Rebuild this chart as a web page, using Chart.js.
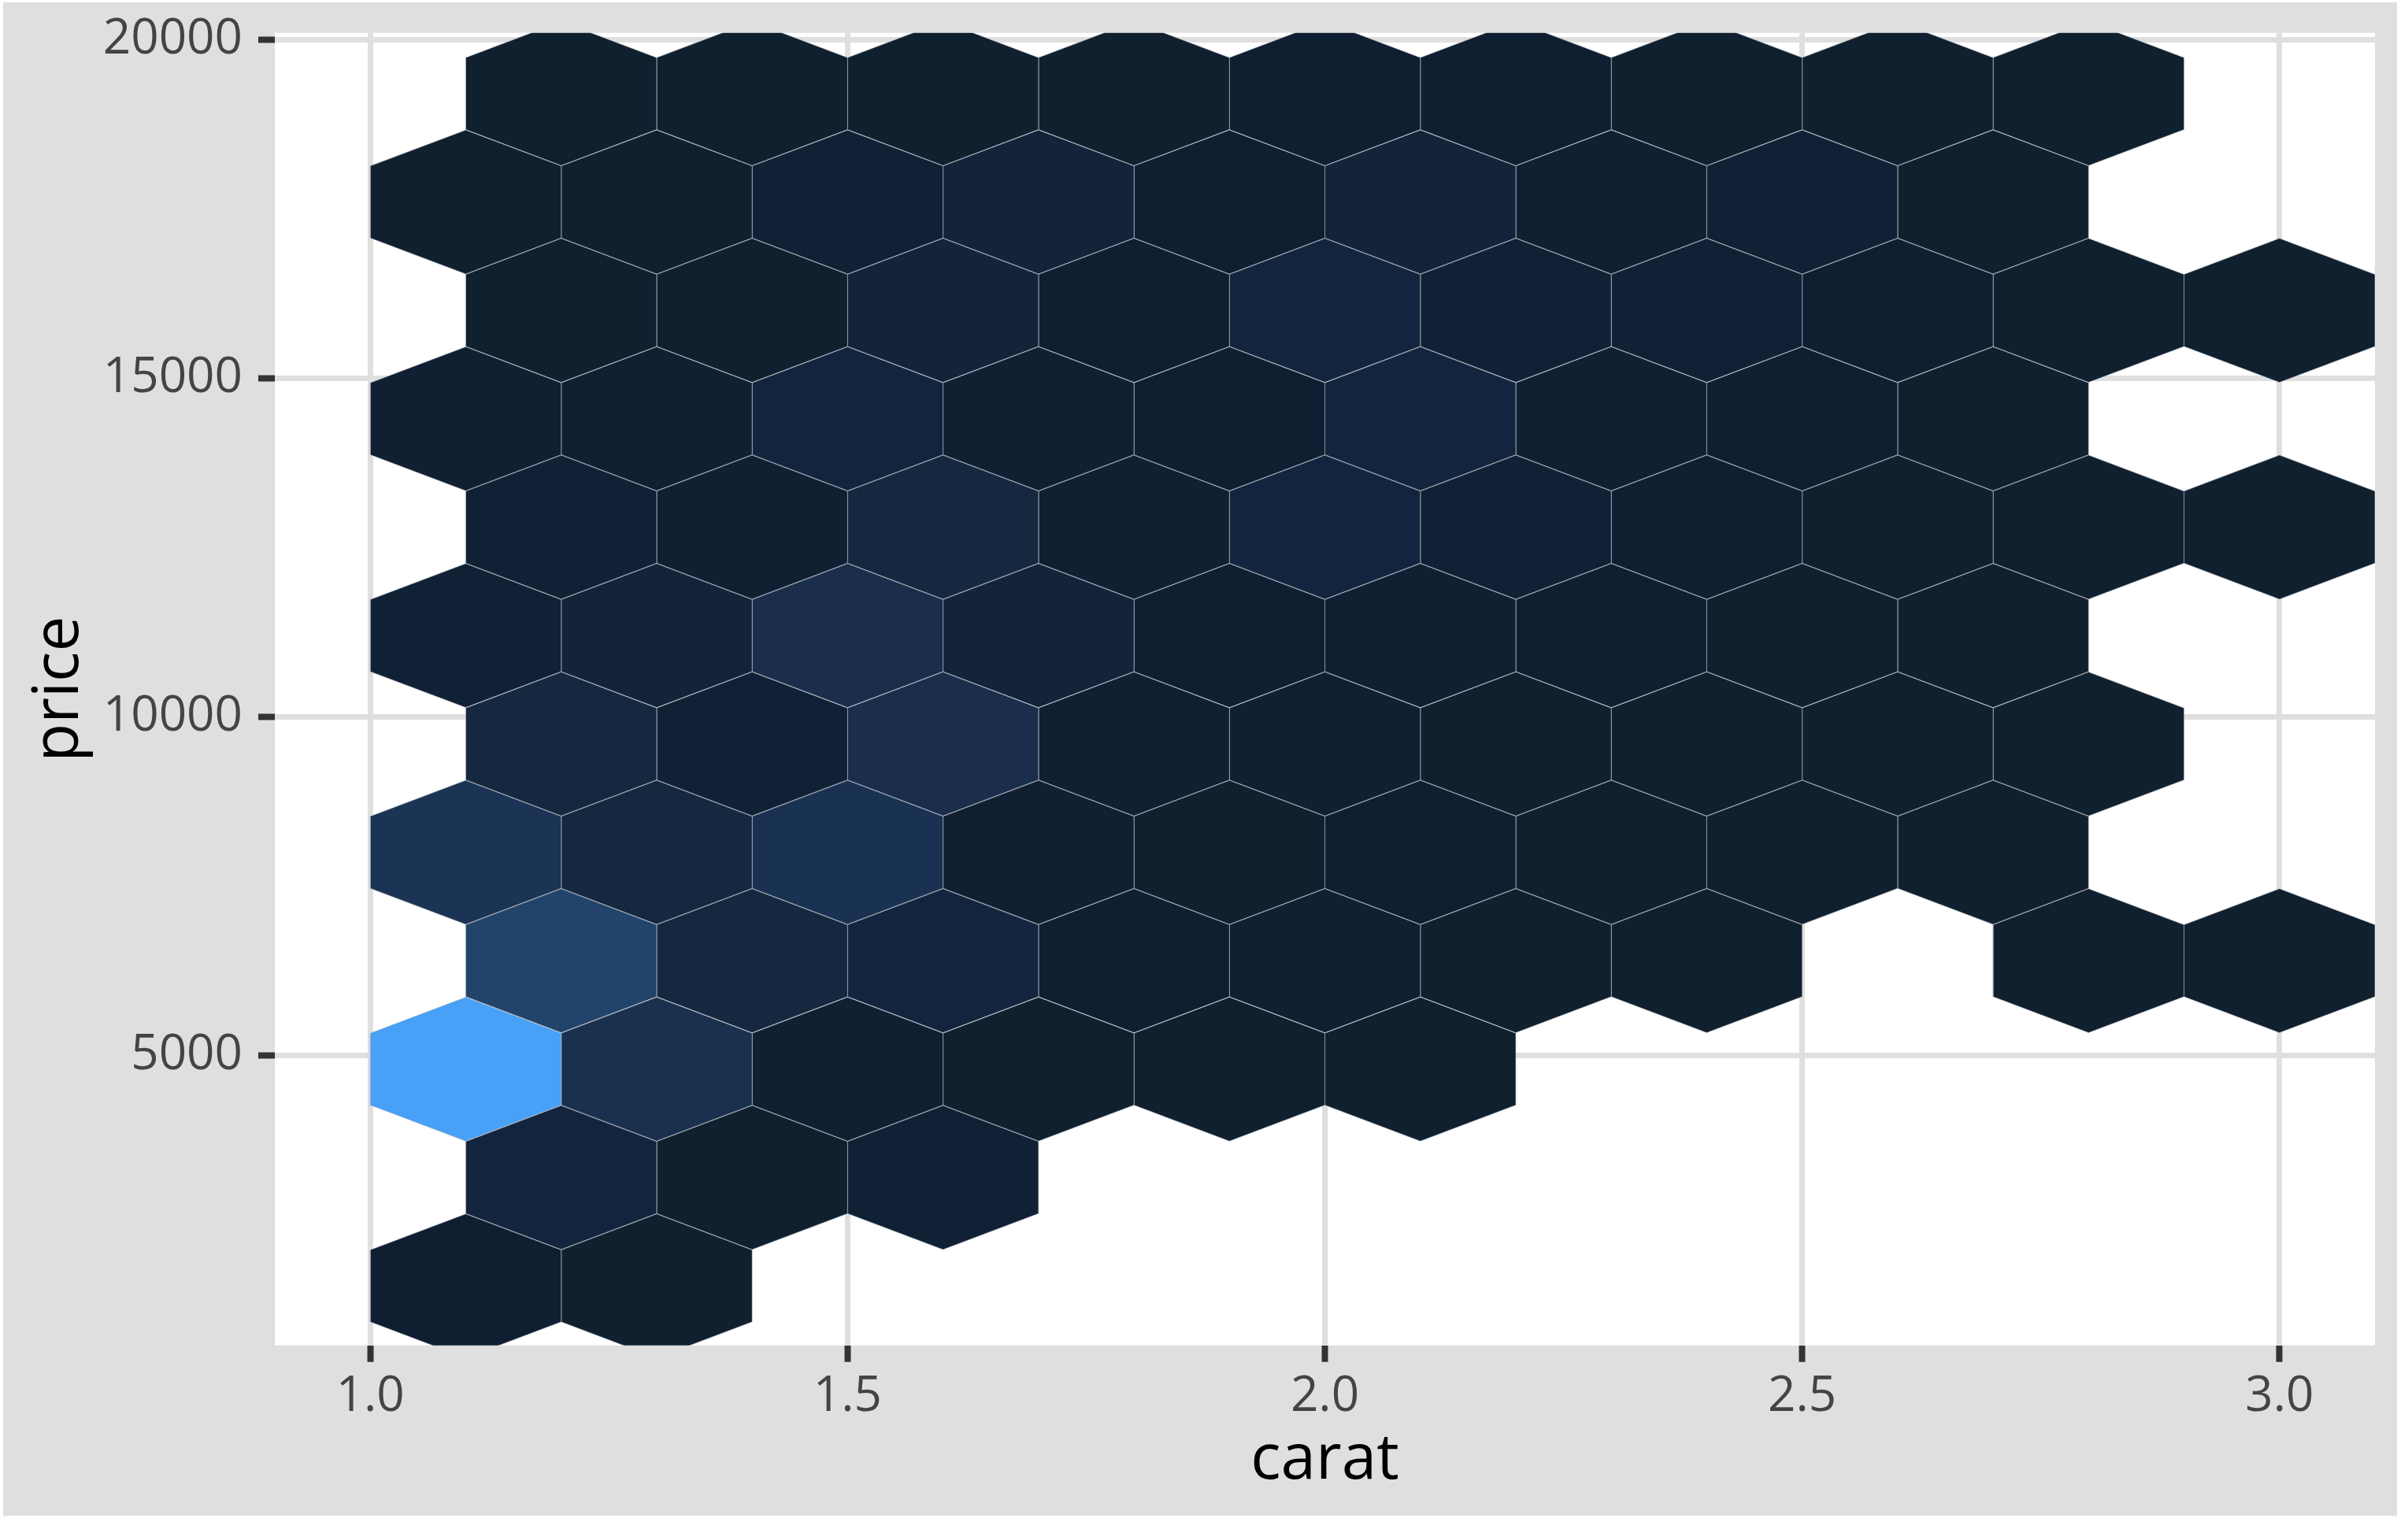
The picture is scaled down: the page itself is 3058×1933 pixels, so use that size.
<!DOCTYPE html>
<html>
<head>
<meta charset="utf-8">
<script src="https://cdn.jsdelivr.net/npm/chart.js@4.4.1/dist/chart.umd.min.js"></script>
<style>
  html, body { margin: 0; padding: 0; background: #ffffff; overflow: hidden; }
  canvas { display: block; }
</style>
</head>
<body>
<canvas id="chart" width="3058" height="1933"></canvas>
<script>
// ---- data ----
const xTickValues = [1.0, 1.5, 2.0, 2.5, 3.0];
const xTickLabels = ['1.0', '1.5', '2.0', '2.5', '3.0'];
const yTickValues = [5000, 10000, 15000, 20000];
const yTickLabels = ['5000', '10000', '15000', '20000'];

// hexagon bin centres (carat, price) and estimated counts
const hexCarat = [
  1.1, 1.3,
  1.2, 1.4, 1.6,
  1.1, 1.3, 1.5, 1.7, 1.9, 2.1,
  1.2, 1.4, 1.6, 1.8, 2.0, 2.2, 2.4, 2.8, 3.0,
  1.1, 1.3, 1.5, 1.7, 1.9, 2.1, 2.3, 2.5, 2.7,
  1.2, 1.4, 1.6, 1.8, 2.0, 2.2, 2.4, 2.6, 2.8,
  1.1, 1.3, 1.5, 1.7, 1.9, 2.1, 2.3, 2.5, 2.7,
  1.2, 1.4, 1.6, 1.8, 2.0, 2.2, 2.4, 2.6, 2.8, 3.0,
  1.1, 1.3, 1.5, 1.7, 1.9, 2.1, 2.3, 2.5, 2.7,
  1.2, 1.4, 1.6, 1.8, 2.0, 2.2, 2.4, 2.6, 2.8, 3.0,
  1.1, 1.3, 1.5, 1.7, 1.9, 2.1, 2.3, 2.5, 2.7,
  1.2, 1.4, 1.6, 1.8, 2.0, 2.2, 2.4, 2.6, 2.8
];
const hexPrice = [
  1600, 1600,
  3200, 3200, 3200,
  4800, 4800, 4800, 4800, 4800, 4800,
  6400, 6400, 6400, 6400, 6400, 6400, 6400, 6400, 6400,
  8000, 8000, 8000, 8000, 8000, 8000, 8000, 8000, 8000,
  9600, 9600, 9600, 9600, 9600, 9600, 9600, 9600, 9600,
  11200, 11200, 11200, 11200, 11200, 11200, 11200, 11200, 11200,
  12800, 12800, 12800, 12800, 12800, 12800, 12800, 12800, 12800, 12800,
  14400, 14400, 14400, 14400, 14400, 14400, 14400, 14400, 14400,
  16000, 16000, 16000, 16000, 16000, 16000, 16000, 16000, 16000, 16000,
  17600, 17600, 17600, 17600, 17600, 17600, 17600, 17600, 17600,
  19200, 19200, 19200, 19200, 19200, 19200, 19200, 19200, 19200
];
const hexCount = [
  8, 2,
  48, 2, 22,
  1200, 165, 14, 2, 2, 2,
  330, 62, 48, 8, 14, 2, 2, 2, 2,
  190, 62, 180, 14, 2, 8, 2, 2, 2,
  62, 22, 150, 14, 14, 2, 2, 2, 2,
  22, 32, 150, 32, 8, 14, 8, 2, 2,
  22, 14, 62, 14, 48, 22, 8, 2, 2, 2,
  14, 14, 48, 14, 8, 48, 14, 8, 2,
  2, 2, 32, 8, 48, 22, 22, 8, 2, 2,
  2, 2, 22, 32, 8, 32, 14, 22, 2,
  2, 2, 2, 2, 8, 8, 2, 2, 2
];

// bin size (carat width, price row spacing)
const binWidthCarat = 0.2;
const binHeightPrice = 1600;

// fill colour scale (count -> colour)
const countStops = [2, 8, 14, 22, 32, 48, 62, 150, 180, 330, 1200];
const colorStops = ['#10202F', '#0F1E31', '#111F33', '#112135', '#12233A', '#13253E',
                    '#15283F', '#1A2E4B', '#1A3252', '#22446B', '#48A0F7'];

// ---- helpers ----
function hexToRgb(h) {
  const n = parseInt(h.slice(1), 16);
  return [(n >> 16) & 255, (n >> 8) & 255, n & 255];
}
function countColor(c) {
  if (c <= countStops[0]) return colorStops[0];
  for (let i = 1; i < countStops.length; i++) {
    if (c <= countStops[i]) {
      const t = (c - countStops[i - 1]) / (countStops[i] - countStops[i - 1]);
      const a = hexToRgb(colorStops[i - 1]), b = hexToRgb(colorStops[i]);
      const m = a.map((v, k) => Math.round(v + (b[k] - v) * t));
      return `rgb(${m[0]},${m[1]},${m[2]})`;
    }
  }
  return colorStops[colorStops.length - 1];
}

const dx = binWidthCarat / 2;
const dy = binHeightPrice / Math.sqrt(3) / 2 * 1.15;
const hexOffsets = [[dx, dy], [0, 2 * dy], [-dx, dy], [-dx, -dy], [0, -2 * dy], [dx, -dy], [dx, dy]];

const datasets = hexCarat.map((cx, i) => ({
  data: hexOffsets.map(([ox, oy]) => ({ x: cx + ox, y: hexPrice[i] + oy })),
  backgroundColor: countColor(hexCount[i]),
  borderColor: 'rgba(175,180,188,0.7)',
  borderWidth: 0.8,
  fill: 'shape',
  pointRadius: 0,
  pointHoverRadius: 0,
  tension: 0
}));

const W = 3058, H = 1933;
const bgPlugin = {
  id: 'bg',
  beforeDraw(chart) {
    const { ctx, chartArea: a } = chart;
    ctx.save();
    ctx.fillStyle = '#ffffff';
    ctx.fillRect(0, 0, W, H);
    ctx.fillStyle = '#DFDFDF';
    ctx.fillRect(4, 3, W - 4 - 14, H - 3 - 8);
    ctx.fillStyle = '#ffffff';
    ctx.fillRect(a.left, a.top, a.right - a.left, a.bottom - a.top);
    ctx.restore();
  }
};

const tickFont = { family: "'Open Sans', 'Noto Sans', sans-serif", size: 62 };
const titleFont = { family: "'Open Sans', 'Noto Sans', sans-serif", size: 80 };
const gridCfg = { color: '#DFDFDF', lineWidth: 7, tickColor: '#333333', tickWidth: 8, tickLength: 21, drawTicks: true };

new Chart(document.getElementById('chart'), {
  type: 'line',
  data: { datasets },
  plugins: [bgPlugin],
  options: {
    responsive: false,
    devicePixelRatio: 1,
    animation: false,
    events: [],
    layout: { padding: { left: 0, right: 42, top: 41.7, bottom: 0 } },
    plugins: { legend: { display: false }, tooltip: { enabled: false } },
    scales: {
      x: {
        type: 'linear',
        min: 0.9,
        max: 3.1,
        afterBuildTicks: s => { s.ticks = xTickValues.map(v => ({ value: v })); },
        afterFit: s => { s.height = 224.3; s.paddingLeft = 0; s.paddingRight = 0; },
        ticks: {
          callback: v => xTickLabels[xTickValues.indexOf(v)],
          font: tickFont, color: '#444444', padding: 7, maxRotation: 0, autoSkip: false
        },
        grid: gridCfg,
        border: { display: false },
        title: { display: true, text: 'carat', font: titleFont, color: '#000000', padding: { top: 0, bottom: 30 } }
      },
      y: {
        type: 'linear',
        min: 722,
        max: 20097,
        afterBuildTicks: s => { s.ticks = yTickValues.map(v => ({ value: v })); },
        afterFit: s => { s.width = 349; s.paddingTop = 0; s.paddingBottom = 0; },
        ticks: {
          callback: v => yTickLabels[yTickValues.indexOf(v)],
          font: tickFont, color: '#444444', padding: 20, autoSkip: false
        },
        grid: gridCfg,
        border: { display: false },
        title: { display: true, text: 'price', font: titleFont, color: '#000000', padding: { top: 28, bottom: 0 } }
      }
    }
  }
});
</script>
</body>
</html>
